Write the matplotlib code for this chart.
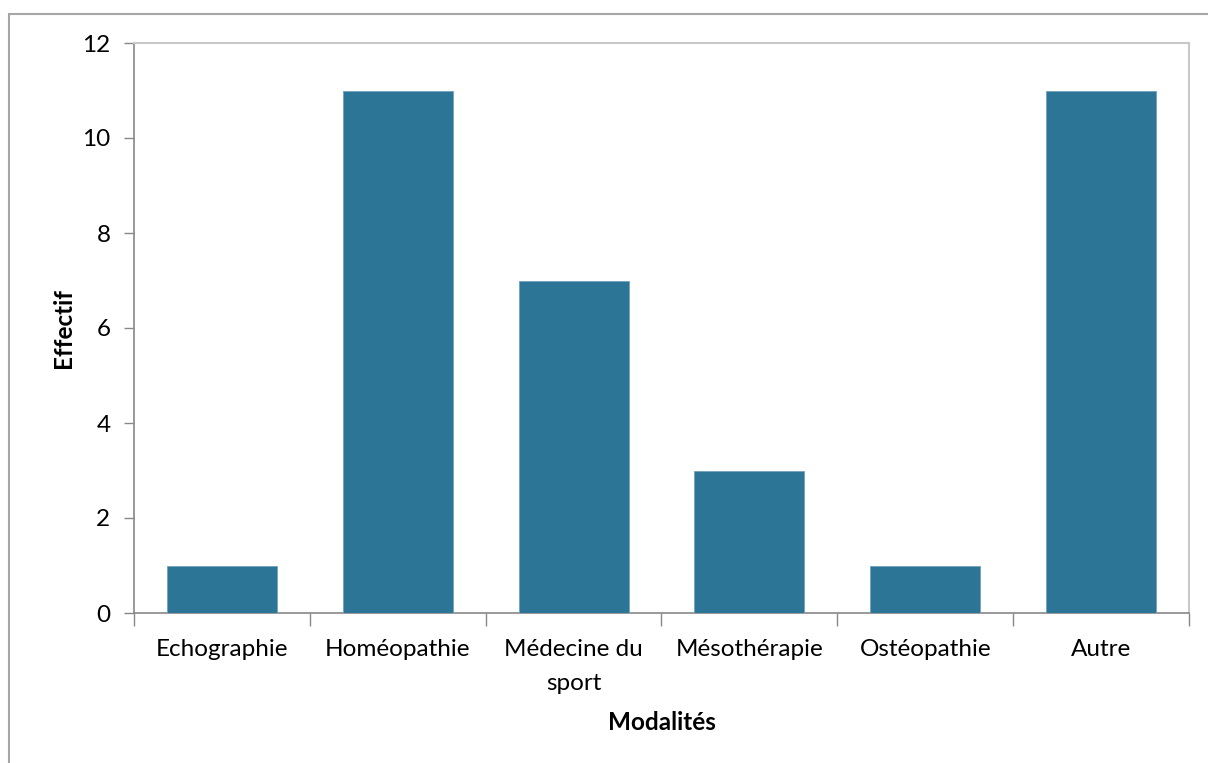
import matplotlib
matplotlib.use("Agg")
import matplotlib.pyplot as plt
from matplotlib.patches import Rectangle
import numpy as np

categories = ["Echographie", "Homéopathie", "Médecine du\nsport", "Mésothérapie", "Ostéopathie", "Autre"]
values = [1, 11, 7, 3, 1, 11]
yticks = [0, 2, 4, 6, 8, 10, 12]

plt.rcParams['font.family'] = ['Lato', 'DejaVu Sans']

W, H = 1208, 763
fig = plt.figure(figsize=(W/100, H/100), dpi=100)
ax = fig.add_axes([134/W, 1-613/H, (1189-134)/W, (613-43)/H])

x = np.arange(len(categories))
ax.bar(x, values, width=0.625, color="#2C7597", edgecolor="#6FA3BC", linewidth=0.6, zorder=3)

FS = 17.5
ax.set_xlim(-0.5, len(categories)-0.5)
ax.set_ylim(0, 12)
ax.set_yticks(yticks)
ax.set_yticklabels([str(v) for v in yticks], fontsize=FS)
ax.set_xticks(np.arange(-0.5, len(categories)+0.5, 1.0))
ax.set_xticklabels([])
ax.set_xticks(x, minor=True)
ax.set_xticklabels(categories, minor=True, fontsize=FS, linespacing=1.75)
ax.tick_params(axis='x', which='minor', length=0, pad=19)
ax.tick_params(axis='x', which='major', direction='out', length=9, color="#888888", width=1)
ax.tick_params(axis='y', direction='out', length=7, color="#888888", width=1, pad=10)

for s in ['left', 'bottom']:
    ax.spines[s].set_color("#888888")
    ax.spines[s].set_linewidth(1.2)
for s in ['top', 'right']:
    ax.spines[s].set_color("#c8c8c8")
    ax.spines[s].set_linewidth(1.5)

ax.set_ylabel("Effectif", fontsize=FS, fontweight='bold', labelpad=5)
ax.set_xlabel("Modalités", fontsize=FS, fontweight='bold', labelpad=12)

fig.patches.append(Rectangle((9/W, -0.1), 1.2, 1.1 - 14/H + 0.0, transform=fig.transFigure,
                             fill=False, edgecolor="#a6a6a6", linewidth=1.5))

fig.savefig("out.png", dpi=100)
